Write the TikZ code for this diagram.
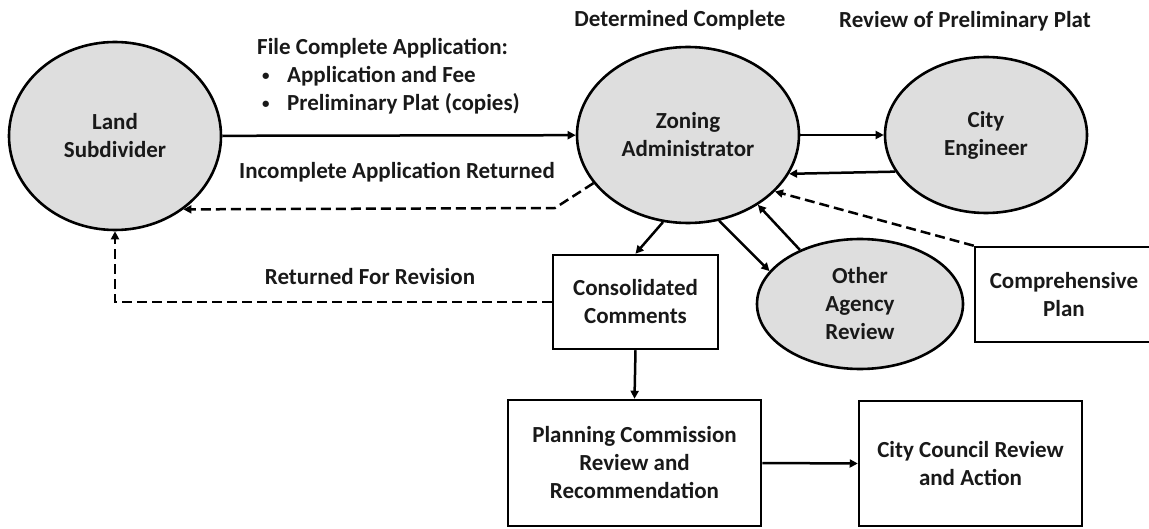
\documentclass[tikz,border=0pt]{standalone}
\usepackage{fontspec}
\usepackage{graphicx}
\setmainfont{Carlito}
\usetikzlibrary{arrows.meta,shapes.geometric}
\newcommand{\smallbul}{\raisebox{1.5pt}{\scalebox{0.65}{•}}}
\begin{document}
\begin{tikzpicture}[x=1pt,y=-1pt,
  every node/.style={font=\fontsize{23}{28}\selectfont\bfseries, text=black!90, align=center, inner sep=0pt},
  bubble/.style={ellipse, draw=black, line width=2.6pt, fill=black!13},
  card/.style={rectangle, draw=black, line width=2.5pt, fill=white},
  conn/.style={line width=2.5pt, -{Triangle[length=8pt,width=8pt]}},
  dconn/.style={conn, dash pattern=on 10pt off 5pt},
  lbl/.style={}]
\useasboundingbox (0,0) rectangle (1149,529);
% nodes
\node[bubble, minimum width=212pt, minimum height=188pt] (land) at (115,136) {Land\\Subdivider};
\node[bubble, minimum width=222pt, minimum height=176pt] (zoning) at (688,135) {Zoning\\Administrator};
\node[bubble, minimum width=202pt, minimum height=156pt] (city) at (986,135) {City\\Engineer};
\node[bubble, minimum width=206pt, minimum height=130pt] (other) at (860,304) {Other\\Agency\\Review};
\node[card, minimum width=165pt, minimum height=94pt] (cons) at (635.5,302) {Consolidated\\Comments};
\node[card, minimum width=178pt, minimum height=95pt] (comp) at (1064,294.5) {Comprehensive\\Plan};
\node[card, minimum width=253pt, minimum height=126pt] (plan) at (634.5,463) {Planning Commission\\Review and\\Recommendation};
\node[card, minimum width=223pt, minimum height=125pt] (council) at (970.5,463.5) {City Council Review\\and Action};
% labels
\node[lbl] (tdet) at (680,20) {Determined Complete};
\node[lbl] (trev) at (965,21) {Review of Preliminary Plat};
\node[lbl, anchor=west, align=left] (tfile) at (257,76) {File Complete Application:\\
  \hspace*{5pt}\makebox[25pt][l]{\smallbul}Application and Fee\\
  \hspace*{5pt}\makebox[25pt][l]{\smallbul}Preliminary Plat (copies)};
\node[lbl] (tinc) at (397,172) {Incomplete Application Returned};
\node[lbl] (tret) at (370,277) {Returned For Revision};
% connectors
\coordinate (b1) at (555,208);
\draw[conn] (land) -- (zoning);
\draw[conn] (zoning) -- (city);
\draw[conn] (city.202.6) -- (zoning.339.7);
\draw[dconn] (zoning.207) -- (b1) -- (land.313.4);
\draw[dconn] (cons.west) -| (land.south);
\draw[conn] (zoning.254) -- (cons.north);
\draw[conn] (zoning.290.2) -- (other.160.8);
\draw[conn] (other.138) -- (zoning.315.8);
\draw[dconn] (comp.north west) -- (zoning.327.4);
\draw[conn] (cons.south) -- (plan.north);
\draw[conn] (plan.east) -- (council.west);
\end{tikzpicture}
\end{document}
